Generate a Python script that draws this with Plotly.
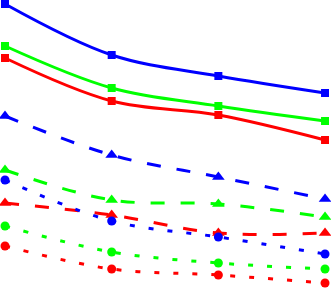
import plotly.graph_objects as go

x = [0, 1, 2, 3]

# values (higher = up)
blue_solid = [286, 235, 214, 197]
green_solid = [244, 202, 184, 169]
red_solid = [232, 189, 175, 150]

blue_dash = [174, 135, 113, 91]
green_dash = [120, 90, 86, 73]
red_dash = [87, 75, 57, 57]

blue_dot = [110, 69, 53, 36]
green_dot = [64, 38, 27, 21]
red_dot = [44, 21, 15, 7]

series = [
    ("blue solid", blue_solid, "#0000ff", "solid", "square", 8),
    ("green solid", green_solid, "#00ff00", "solid", "square", 8),
    ("red solid", red_solid, "#ff0000", "solid", "square", 8),
    ("blue dash", blue_dash, "#0000ff", "14px,16px", "triangle-up", 11),
    ("green dash", green_dash, "#00ff00", "14px,16px", "triangle-up", 11),
    ("red dash", red_dash, "#ff0000", "14px,16px", "triangle-up", 11),
    ("blue dot", blue_dot, "#0000ff", "5px,14px", "circle", 9),
    ("green dot", green_dot, "#00ff00", "5px,14px", "circle", 9),
    ("red dot", red_dot, "#ff0000", "5px,14px", "circle", 9),
]

fig = go.Figure()
for name, ys, color, dash, sym, size in series:
    fig.add_trace(go.Scatter(
        x=x, y=ys, name=name, mode="lines+markers",
        line=dict(color=color, width=3, dash=dash, shape="spline", smoothing=1.0),
        marker=dict(color=color, symbol=sym, size=size),
    ))

fig.update_layout(
    width=331, height=290,
    margin=dict(l=0, r=0, t=0, b=0),
    paper_bgcolor="white", plot_bgcolor="white",
    showlegend=False,
    xaxis=dict(visible=False, range=[-0.047, 3.056]),
    yaxis=dict(visible=False, range=[0, 290]),
)
fig.write_html("out.html", config={"displayModeBar": False},
               post_script="document.body.style.margin='0';document.body.style.overflow='hidden';")
